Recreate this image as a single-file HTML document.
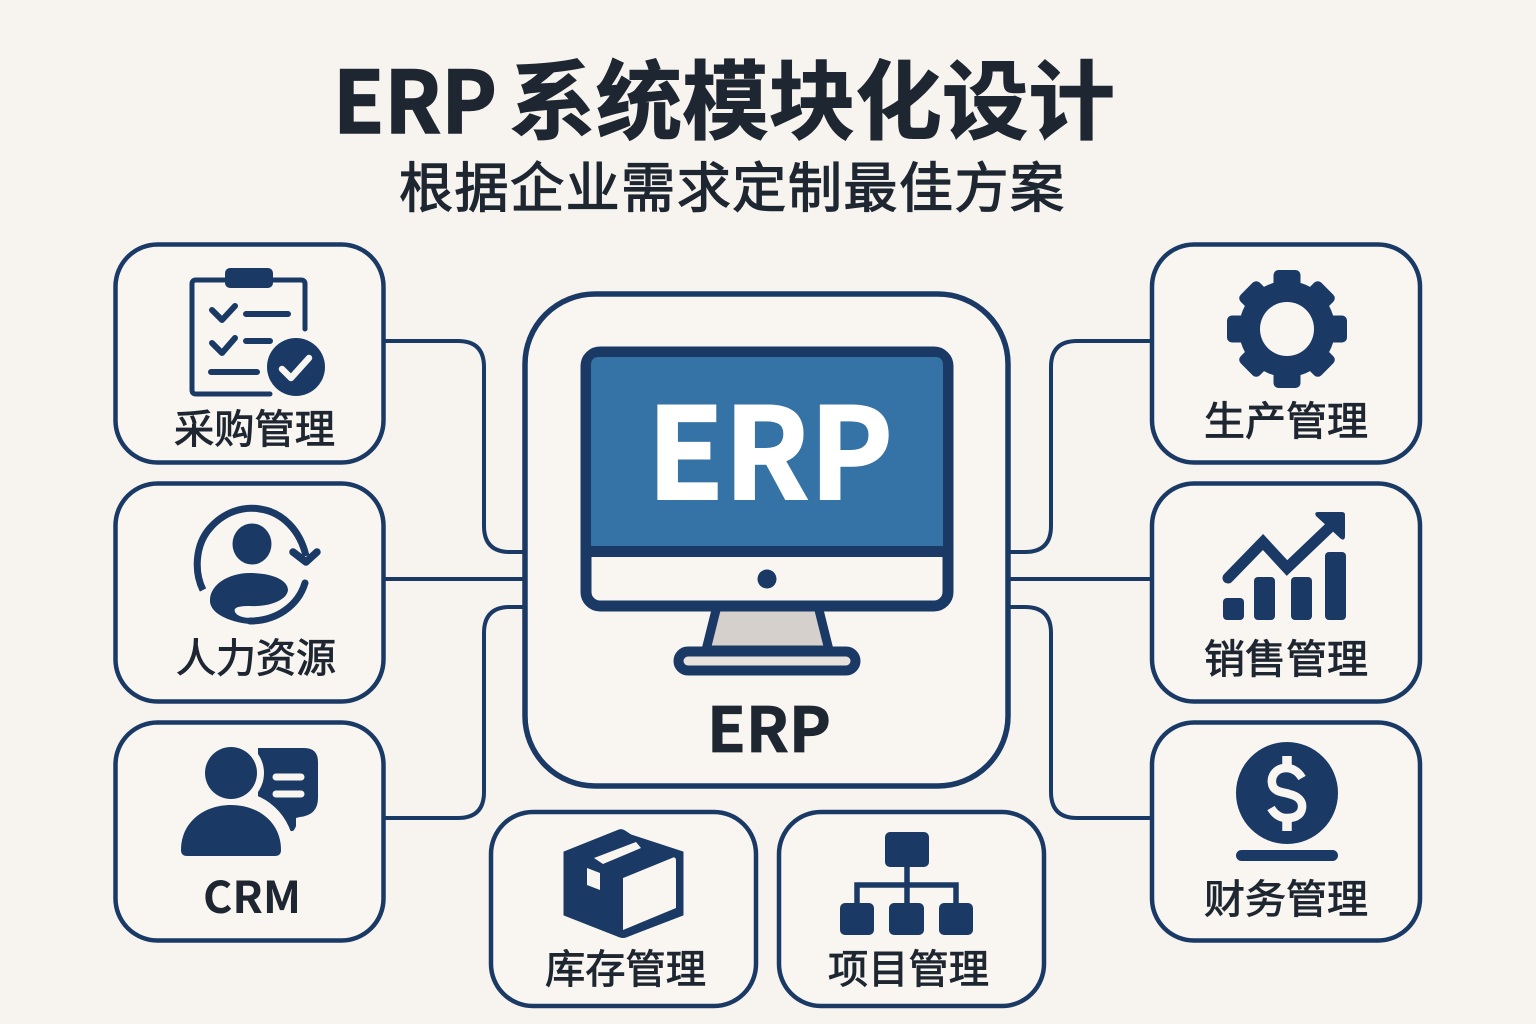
<!DOCTYPE html>
<html lang="zh-CN">
<head>
<meta charset="utf-8">
<title>ERP 系统模块化设计</title>
<style>
html,body{margin:0;padding:0;background:#f7f4ef}
svg{display:block}
text{font-family:"Liberation Sans","Noto Sans CJK SC",sans-serif;fill:#1e2731}
.cjk{font-family:"Noto Sans CJK SC","Liberation Sans",sans-serif}
.lb{font-size:40px;font-weight:400;stroke:#1e2731;stroke-width:.9px}
.box{fill:#f9f6f2;stroke:#1a3a65;stroke-width:4.5px}
.ln{fill:none;stroke:#1a3a65;stroke-width:4px}
</style>
</head>
<body>
<svg width="1536" height="1024" viewBox="0 0 1536 1024" xmlns="http://www.w3.org/2000/svg">
<rect width="1536" height="1024" fill="#f7f4ef"/>

<!-- Title -->
<text class="cjk" x="333" y="133" font-size="86" font-weight="700" stroke="#1e2731" stroke-width="1.500" textLength="164" lengthAdjust="spacingAndGlyphs">ERP</text>
<text class="cjk" x="509" y="132" font-size="86" font-weight="700" stroke="#1e2731" stroke-width="1" textLength="606" lengthAdjust="spacingAndGlyphs">系统模块化设计</text>
<text class="cjk" x="399" y="207" font-size="54" font-weight="400" stroke="#1e2731" stroke-width="1.300" textLength="665">根据企业需求定制最佳方案</text>

<!-- Connectors -->
<path class="ln" d="M384 341H458Q484 341 484 367V526Q484 552 510 552H526"/>
<path class="ln" d="M384 579H526"/>
<path class="ln" d="M384 818H458Q484 818 484 792V633Q484 607 510 607H526"/>
<path class="ln" d="M1152 341H1077Q1051 341 1051 367V526Q1051 552 1025 552H1008"/>
<path class="ln" d="M1152 579H1008"/>
<path class="ln" d="M1152 818H1077Q1051 818 1051 792V633Q1051 607 1025 607H1008"/>

<!-- Boxes -->
<rect class="box" x="115.500" y="244.500" width="268" height="218" rx="42"/>
<rect class="box" x="115.500" y="483.500" width="268" height="218" rx="42"/>
<rect class="box" x="115.500" y="722.500" width="268" height="218" rx="42"/>
<rect class="box" x="1152" y="244.500" width="268" height="218" rx="42"/>
<rect class="box" x="1152" y="483.500" width="268" height="218" rx="42"/>
<rect class="box" x="1152" y="722.500" width="268" height="218" rx="42"/>
<rect class="box" x="491" y="812" width="265" height="194" rx="42"/>
<rect class="box" x="779" y="812" width="265" height="194" rx="42"/>
<rect x="525" y="294" width="483" height="492" rx="70" fill="#f9f6f2" stroke="#1a3a65" stroke-width="5.500"/>

<!-- Monitor -->
<polygon points="717,606 706,650 829,650 818,606" fill="#d5d0cb" stroke="#1a3a65" stroke-width="9" stroke-linejoin="round"/>
<rect x="678.500" y="651.500" width="177" height="19" rx="9.500" fill="#e6e2dd" stroke="#1a3a65" stroke-width="10"/>
<rect x="586" y="352" width="362" height="254" rx="14" fill="#f9f6f2" stroke="#1a3a65" stroke-width="11"/>
<path d="M591 546V365Q591 357 599 357H935Q943 357 943 365V546Z" fill="#3572a5"/>
<rect x="591" y="546" width="352" height="11" fill="#1a3a65"/>
<circle cx="767" cy="579" r="9.500" fill="#1a3a65"/>
<text class="cjk" x="647" y="499" font-size="126" font-weight="700" style="fill:#fff;stroke:#fff;stroke-width:2" textLength="246" lengthAdjust="spacingAndGlyphs">ERP</text>
<text class="cjk" x="707" y="752" font-size="62" font-weight="700" stroke="#1e2731" stroke-width=".8" textLength="124" lengthAdjust="spacingAndGlyphs">ERP</text>

<!-- Clipboard -->
<g fill="none" stroke="#1a3a65" stroke-width="5" stroke-linecap="round" stroke-linejoin="round">
<path d="M305 329V284Q305 280 301 280H196Q192 280 192 284V390Q192 394 196 394H270"/>
<path d="M212 310L222 320L235 306M212 343L222 353L235 338" stroke-width="6"/>
<path d="M246 314H288M246 341H270M211 372H257" stroke-width="6"/>
</g>
<rect x="225" y="268" width="48" height="20" rx="5" fill="#1a3a65"/>
<circle cx="296" cy="367" r="29" fill="#1a3a65"/>
<path d="M282 369L291 378L309 358" fill="none" stroke="#f9f6f2" stroke-width="6.500" stroke-linecap="round" stroke-linejoin="round"/>
<text class="cjk lb" x="174" y="443" textLength="161" lengthAdjust="spacingAndGlyphs">采购管理</text>

<!-- HR -->
<g fill="none" stroke="#1a3a65" stroke-width="7" stroke-linecap="butt">
<path d="M203 590C194 572 195 545 210 528C224 512 243 506 260 509C282 512 300 530 306 556"/>
<path d="M293 552L306 562L317 552" stroke-linecap="round" stroke-linejoin="round" stroke-width="7.500"/>
<path d="M305 583C298 606 276 621 250 621" stroke-linecap="round"/>
</g>
<ellipse cx="252" cy="544" rx="19.500" ry="20.500" fill="#1a3a65"/>
<path d="M210 600C210 585 228 573 250 573C272 573 288 580 288 590C287 600 270 607 250 606C240 606 233 607 235 612C237 616 243 618 252 618V624C238 624 209 616 210 600Z" fill="#1a3a65"/>
<text class="cjk lb" x="176" y="672" textLength="160" lengthAdjust="spacingAndGlyphs">人力资源</text>

<!-- CRM -->
<path d="M264 748H304Q318 748 318 762V798Q318 815 300 817L296 818V826Q294 832 291 831Q288 830 286 822L258 800V748Z" fill="#1a3a65"/>
<circle cx="231" cy="773" r="33" fill="#f9f6f2"/>
<path d="M231 798C262 798 285 818 288 852" fill="none" stroke="#f9f6f2" stroke-width="14"/>
<path d="M181 850C181 822 204 805 231 805C258 805 281 822 281 850Q281 856 275 856H187Q181 856 181 850Z" fill="#1a3a65"/>
<circle cx="231" cy="773" r="26" fill="#1a3a65"/>
<path d="M276 777H301M276 794H301" stroke="#f9f6f2" stroke-width="7" stroke-linecap="round"/>
<text class="cjk" x="203" y="913" font-size="44" font-weight="700" textLength="98" lengthAdjust="spacingAndGlyphs">CRM</text>

<!-- Gear -->
<g fill="#1a3a65">
<circle cx="1287" cy="329" r="48"/>
<rect x="1273.500" y="270" width="27" height="30" rx="5"/>
<rect x="1273.500" y="358" width="27" height="30" rx="5"/>
<rect x="1227" y="315.500" width="30" height="27" rx="5"/>
<rect x="1317" y="315.500" width="30" height="27" rx="5"/>
<g transform="rotate(45 1287 329)">
<rect x="1273.500" y="272" width="27" height="30" rx="5"/>
<rect x="1273.500" y="356" width="27" height="30" rx="5"/>
<rect x="1230" y="315.500" width="30" height="27" rx="5"/>
<rect x="1314" y="315.500" width="30" height="27" rx="5"/>
</g>
</g>
<circle cx="1287" cy="329" r="27" fill="#f9f6f2"/>
<text class="cjk lb" x="1204" y="435" textLength="164" lengthAdjust="spacingAndGlyphs">生产管理</text>

<!-- Chart -->
<g fill="#1a3a65">
<rect x="1223" y="598" width="21" height="22" rx="4"/>
<rect x="1254" y="577" width="21" height="43" rx="4"/>
<rect x="1291" y="577" width="21" height="43" rx="4"/>
<rect x="1325" y="552" width="21" height="68" rx="4"/>
<path d="M1318 512H1342Q1345 512 1345 515V536Q1345 541 1341 539L1316 516Q1314 512 1318 512Z"/>
</g>
<path d="M1228 578L1263 542L1287 568L1330 527" fill="none" stroke="#1a3a65" stroke-width="11" stroke-linecap="round" stroke-linejoin="miter"/>
<text class="cjk lb" x="1204" y="673" textLength="164" lengthAdjust="spacingAndGlyphs">销售管理</text>

<!-- Dollar -->
<circle cx="1287" cy="793" r="51" fill="#1a3a65"/>
<path d="M1302 778C1298 771 1292 768 1286 768C1276 768 1271 776 1272 783C1273 793 1285 792 1289 794C1298 796 1303 801 1302 808C1301 816 1294 818 1287 818C1279 818 1274 813 1271 808" fill="none" stroke="#f9f6f2" stroke-width="8.500" stroke-linecap="butt"/>
<path d="M1287 756V769M1287 818V831" stroke="#f9f6f2" stroke-width="9.500"/>
<rect x="1236" y="850" width="102" height="11" rx="5.500" fill="#1a3a65"/>
<text class="cjk lb" x="1204" y="913" textLength="164" lengthAdjust="spacingAndGlyphs">财务管理</text>

<!-- Package -->
<path d="M564 852L619 830Q622 829 625 831L631 835L683 852V915L626 937Q623 938 620 937L564 915Z" fill="#1a3a65" stroke="#1a3a65" stroke-width="1" stroke-linejoin="round"/>
<path d="M623 878L672 858Q676 856 676 861V908L623 930Z" fill="#f9f6f2"/>
<path d="M594 858L636 842L641 848L603 864Z" fill="#f9f6f2"/>
<path d="M587 868L600 873V890L587 885Z" fill="#f9f6f2"/>
<text class="cjk lb" x="545" y="983" textLength="161" lengthAdjust="spacingAndGlyphs">库存管理</text>

<!-- Org chart -->
<g fill="#1a3a65">
<rect x="885" y="832" width="44" height="35" rx="5"/>
<rect x="840" y="903" width="34" height="32" rx="5"/>
<rect x="889" y="903" width="35" height="32" rx="5"/>
<rect x="939" y="903" width="34" height="32" rx="5"/>
</g>
<path d="M907 867V903M857 903V885H956V903" fill="none" stroke="#1a3a65" stroke-width="5.500"/>
<text class="cjk lb" x="828" y="983" textLength="161" lengthAdjust="spacingAndGlyphs">项目管理</text>
</svg>
</body>
</html>
